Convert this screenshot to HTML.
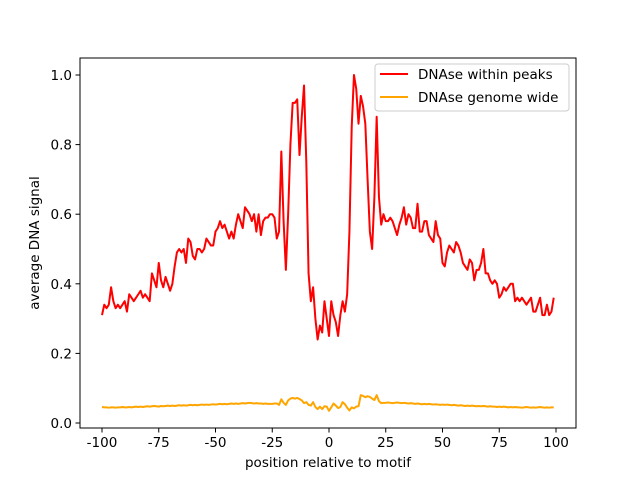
<!DOCTYPE html>
<html><head><meta charset="utf-8"><style>
body{margin:0;background:#fff;font-family:"Liberation Sans","DejaVu Sans",sans-serif;}
svg text{font-family:"DejaVu Sans","Liberation Sans",sans-serif;font-size:13.5px;fill:#000;}
</style></head><body>
<svg id="chart" width="640" height="480" xmlns="http://www.w3.org/2000/svg">
<rect x="0" y="0" width="640" height="480" fill="#fff"/>
<g id="plot"></g>
</svg>
<script>
const xStart = -100;
const peaks = [.31,.34,.33,.34,.39,.35,.33,.34,.33,.34,
.35,.32,.37,.36,.35,.36,.37,.38,.36,.37,
.36,.35,.43,.41,.39,.46,.41,.39,.42,.40,
.38,.40,.45,.49,.50,.49,.50,.46,.53,.52,
.48,.47,.50,.50,.49,.50,.53,.52,.51,.51,
.55,.56,.58,.56,.57,.55,.53,.55,.53,.57,
.60,.58,.56,.62,.61,.60,.58,.60,.55,.60,
.54,.58,.59,.59,.60,.60,.59,.53,.55,.78,
.58,.44,.60,.80,.92,.92,.93,.77,.88,.97,
.75,.43,.35,.39,.30,.24,.28,.26,.35,.30,
.25,.35,.31,.29,.25,.31,.35,.32,.37,.55,
.85,1.0,.96,.86,.94,.91,.86,.70,.55,.50,
.65,.88,.65,.57,.60,.58,.58,.59,.58,.56,
.54,.57,.59,.62,.57,.60,.59,.56,.56,.63,
.55,.55,.58,.58,.54,.53,.52,.58,.54,.53,
.46,.45,.49,.51,.50,.49,.52,.51,.49,.46,
.45,.44,.47,.46,.41,.44,.44,.46,.50,.43,
.43,.41,.40,.41,.40,.36,.37,.39,.38,.39,
.40,.40,.35,.36,.35,.36,.35,.34,.35,.36,
.32,.32,.34,.36,.31,.31,.34,.31,.32,.36];
const genome = [.046,.045,.045,.044,.045,.045,.044,.045,.045,.046,
.045,.045,.046,.045,.046,.047,.046,.047,.046,.047,
.048,.047,.048,.049,.048,.047,.049,.048,.049,.050,
.049,.050,.049,.050,.051,.050,.051,.050,.051,.052,
.051,.052,.051,.052,.053,.052,.053,.052,.053,.054,
.053,.054,.055,.054,.055,.054,.055,.056,.055,.056,
.055,.056,.057,.056,.057,.058,.057,.056,.057,.056,
.056,.055,.056,.055,.055,.055,.056,.056,.052,.068,
.058,.052,.065,.070,.072,.070,.072,.069,.065,.057,
.060,.052,.050,.060,.046,.040,.047,.040,.048,.047,
.035,.045,.056,.050,.043,.046,.060,.054,.044,.036,
.045,.042,.047,.048,.080,.078,.074,.077,.075,.070,
.066,.080,.063,.057,.058,.058,.059,.058,.057,.058,
.059,.058,.057,.058,.057,.056,.057,.056,.055,.056,
.055,.054,.055,.054,.055,.054,.053,.054,.053,.052,
.053,.052,.053,.052,.051,.052,.051,.050,.051,.050,
.049,.050,.049,.050,.049,.048,.049,.048,.049,.048,
.047,.048,.047,.047,.046,.047,.046,.047,.046,.045,
.046,.045,.046,.045,.045,.044,.045,.046,.045,.044,
.045,.044,.045,.046,.045,.044,.045,.044,.045,.045];
const xTicks = [-100,-75,-50,-25,0,25,50,75,100];
const yTicks = [0.0,0.2,0.4,0.6,0.8,1.0];
const yTickLabels = ["0.0","0.2","0.4","0.6","0.8","1.0"];

const L=80,R=576,T=58,B=428;
const xs = v => 102 + (v - (-100)) * (556-102)/200;
const ys = v => 423 - v*348;
const NS="http://www.w3.org/2000/svg";
const g=document.getElementById('plot');
function mk(tag,attrs){const e=document.createElementNS(NS,tag);for(const k in attrs)e.setAttribute(k,attrs[k]);g.appendChild(e);return e;}
function path(data,color,name){
  const d=data.map((v,i)=>(i?'L':'M')+xs(xStart+i).toFixed(2)+','+ys(v).toFixed(2)).join('');
  const p=mk('path',{d:d,fill:'none',stroke:color,'stroke-width':2,'stroke-linejoin':'round'});
  
  
}
path(peaks,'#ff0000','series-dnase-within-peaks');
path(genome,'#ffa500','series-dnase-genome-wide');
const frame=mk('rect',{x:L,y:T,width:R-L,height:B-T,fill:'none',stroke:'#000','stroke-width':1});


xTicks.forEach(t=>{
  const x=xs(t);
  const tk=mk('line',{x1:x,y1:B,x2:x,y2:B+4.5,stroke:'#000','stroke-width':1});
  
  
  const tx=mk('text',{x:x,y:B+19,'text-anchor':'middle'});tx.textContent=t;
  
  
});
yTicks.forEach((t,i)=>{
  const y=ys(t);
  const tk=mk('line',{x1:L-4.5,y1:y,x2:L,y2:y,stroke:'#000','stroke-width':1});
  
  
  const tx=mk('text',{x:L-8,y:y+5,'text-anchor':'end'});tx.textContent=yTickLabels[i];
  
  
});
const xt=mk('text',{x:(L+R)/2,y:467,'text-anchor':'middle'});xt.textContent='position relative to motif';


const yt=mk('text',{x:0,y:0,'text-anchor':'middle',transform:'translate(39,243) rotate(-90)'});yt.textContent='average DNA signal';


const lg=mk('rect',{x:375,y:64,width:194,height:47,rx:3,fill:'#fff','fill-opacity':0.8,stroke:'#ccc','stroke-width':1});


[['#ff0000','DNAse within peaks',79],['#ffa500','DNAse genome wide',102]].forEach(([c,l,y])=>{
  const ln=mk('line',{x1:380,y1:y-5,x2:408,y2:y-5,stroke:c,'stroke-width':2});
  
  
  const tx=mk('text',{x:418,y:y});tx.textContent=l;
  
  
});
</script>
</body></html>
